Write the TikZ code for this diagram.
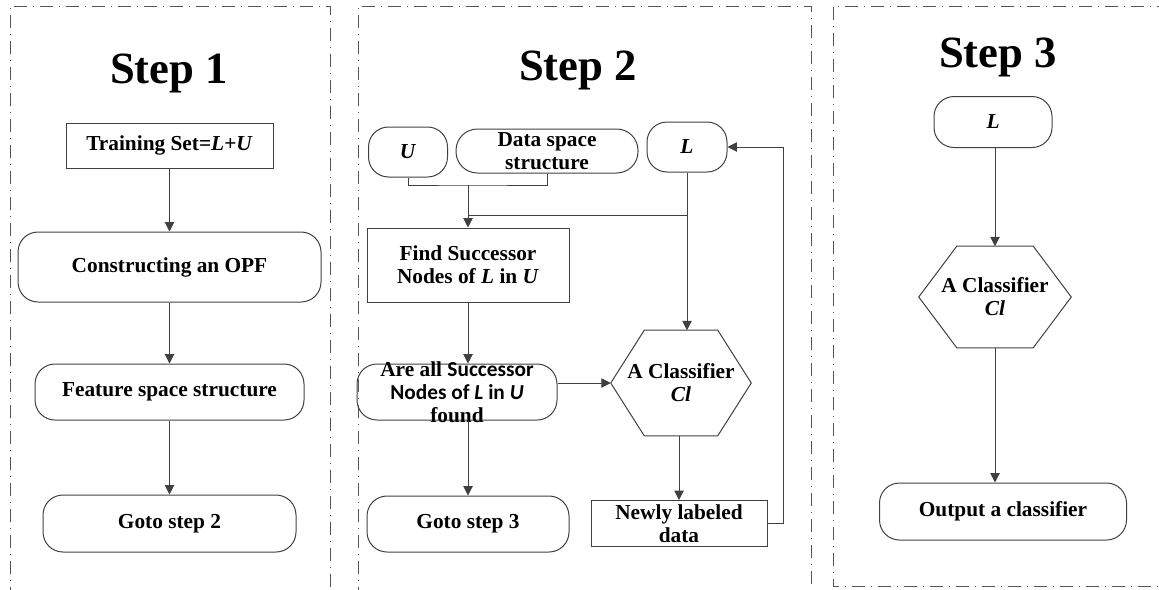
\documentclass[tikz,border=0pt]{standalone}
\usepackage{fontspec}
\setmainfont{Liberation Serif}
\newfontfamily\calfont{Carlito}
\usetikzlibrary{arrows.meta,calc}
\definecolor{lineC}{HTML}{404040}
\definecolor{panelC}{HTML}{555555}
\def\px{*0.75pt}
\begin{document}
\begin{tikzpicture}[x=0.75pt,y=-0.75pt,
  every node/.style={font=\fontsize{16pt}{17.3pt}\selectfont\bfseries, text=black, inner sep=0pt, align=center},
  box/.style={draw=lineC, line width=0.75pt, rectangle},
  rbox/.style={draw=lineC, line width=0.75pt, rectangle, rounded corners=15pt},
  plain/.style={rectangle},
  arr/.style={draw=lineC, line width=0.75pt, -{Triangle[length=7pt,width=7pt]}},
  conn/.style={draw=lineC, line width=0.75pt},
  hexline/.style={draw=lineC, line width=0.75pt},
  panel/.style={draw=panelC, line width=0.75pt, dash pattern=on 9.75pt off 4.5pt on 0.75pt off 4.5pt},
  title/.style={font=\fontsize{33.5pt}{36pt}\selectfont\bfseries, anchor=base}
]
\useasboundingbox (0,0) rectangle (1159,589);

% panels
\draw[panel] (10,600) -- (10,6) -- (330,6) -- (330,600);
\draw[panel] (358,600) -- (358,6) -- (811,6) -- (811,600);
\draw[panel] (1170,6) -- (833,6) -- (833,586) -- (1170,586);

% ---------- Step 1 ----------
\node[title] (t1) at (169,83) {Step 1};
\node[box, minimum width=207\px, minimum height=45\px] (train) at (169.5,145.5) {Training Set=\textit{L}+\textit{U}};
\node[rbox, minimum width=303\px, minimum height=70\px] (opf) at (169.5,267) {Constructing an OPF};
\node[rbox, minimum width=269\px, minimum height=56\px] (feat) at (169.5,392) {Feature space structure};
\node[rbox, minimum width=253\px, minimum height=57\px] (goto2) at (169.5,523.5) {Goto step 2};
\draw[arr] (train) -- (opf);
\draw[arr] (opf) -- (feat);
\draw[arr] (feat) -- (goto2);

% ---------- Step 2 ----------
\node[title] (t2) at (578,80) {Step 2};
\node[rbox, minimum width=79\px, minimum height=50\px] (U) at (408,152) {\textit{U}};
\node[rbox, rounded corners=16pt, minimum width=182\px, minimum height=44\px] (data) at (547,151) {Data space\\structure};
\node[rbox, minimum width=80\px, minimum height=50\px] (L2) at (687,147) {\textit{L}};
\node[box, minimum width=202\px, minimum height=74\px] (find) at (468,265) {Find Successor\\Nodes of \textit{L} in \textit{U}};
\node[rbox, minimum width=200\px, minimum height=56\px] (areall) at (457,392) {};
\node[plain] (areallTxt) at (457,392.5) {Are all {\calfont Successor}\\{\calfont Nodes of \textit{L} in \textit{U}}\\found};
\node[rbox, minimum width=202\px, minimum height=56\px] (goto3) at (468,524) {Goto step 3};
\node[plain, minimum width=140\px, minimum height=105\px] (hex) at (681,383) {A Classifier\\\textit{Cl}};
\draw[hexline] (hex.west) -- ($(hex.north west)+(33.5,0)$) -- ($(hex.north east)+(-33.5,0)$) -- (hex.east) -- ($(hex.south east)+(-33.5,0)$) -- ($(hex.south west)+(33.5,0)$) -- cycle;
\node[box, minimum width=176\px, minimum height=46\px] (newly) at (679,523.5) {Newly labeled\\data};

\coordinate (j1) at (468,185);
\coordinate (j2) at (468,215);
\draw[conn] (U.south) |- (j1) -| (data.south);
\draw[conn] (L2.south) |- (j2);
\draw[arr] (j1) -- (j1 |- find.north);
\draw[arr] (L2.south) -- (L2.south |- hex.north);
\draw[arr] (find.south) -- (find.south |- areall.north);
\draw[arr] (find.south |- areall.south) -- (goto3.north);
\draw[arr] (hex.west -| areall.east) -- (hex.west);
\draw[arr] (newly.north |- hex.south) -- (newly.north);
\draw[arr] (newly.east) -- ++(16,0) |- (L2.east);

% ---------- Step 3 ----------
\node[title] (t3) at (998,67) {Step 3};
\node[rbox, minimum width=118\px, minimum height=51\px] (L3) at (993,122) {\textit{L}};
\node[plain, minimum width=152\px, minimum height=101\px] (hex3) at (995,297) {A Classifier\\\textit{Cl}};
\draw[hexline] (hex3.west) -- ($(hex3.north west)+(38,0)$) -- ($(hex3.north east)+(-38,0)$) -- (hex3.east) -- ($(hex3.south east)+(-38,0)$) -- ($(hex3.south west)+(38,0)$) -- cycle;
\node[rbox, minimum width=247\px, minimum height=57\px] (out) at (1003,511.5) {Output a classifier};
\draw[arr] (hex3.north |- L3.south) -- (hex3.north);
\draw[arr] (hex3.south) -- (hex3.south |- out.north);
\end{tikzpicture}
\end{document}
